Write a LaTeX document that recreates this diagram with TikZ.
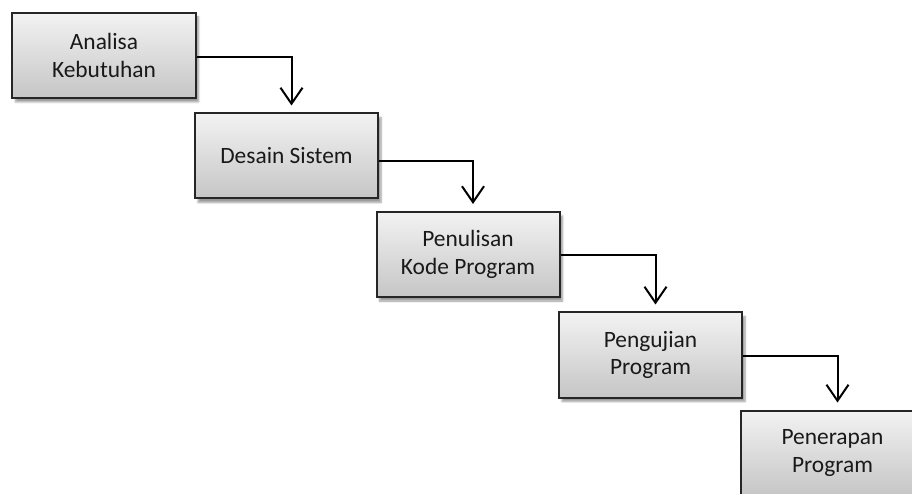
\documentclass[tikz,border=0pt]{standalone}
\usepackage{fontspec}
\setmainfont{Carlito}
\usetikzlibrary{arrows.meta,shadows.blur}
\begin{document}
\begin{tikzpicture}[x=1bp,y=-1bp,
  stage/.style={draw=black!85, line width=2bp, top color=gray!10, bottom color=gray!45,
    minimum width=183bp, minimum height=85bp, align=center,
    font=\fontsize{23.5}{28}\selectfont, text=black!90,
    blur shadow={shadow xshift=3bp, shadow yshift=-4bp, shadow blur steps=6, shadow opacity=40}},
  flow/.style={draw=black, line width=2bp, -{Straight Barb[length=16bp,width=22bp,line width=2bp]}, shorten >=7bp}]
\useasboundingbox (0,0) rectangle (912,494);
\clip (0,0) rectangle (912,494);
\node[stage] (a) at (104,55.5) {Analisa\\Kebutuhan};
\node[stage] (b) at (286.5,156) {Desain Sistem};
\node[stage] (c) at (468,254.5) {Penulisan\\Kode Program};
\node[stage] (d) at (650.5,355) {Pengujian\\Program};
\node[stage] (e) at (832.5,453) {Penerapan\\Program};
\draw[flow] ([yshift=-2bp]a.east) -| ([xshift=5bp]b.north);
\draw[flow] ([yshift=-5bp]b.east) -| ([xshift=5bp]c.north);
\draw[flow] ([yshift=-1bp]c.east) -| ([xshift=5bp]d.north);
\draw[flow] ([yshift=-1bp]d.east) -| ([xshift=5bp]e.north);
\end{tikzpicture}
\end{document}
